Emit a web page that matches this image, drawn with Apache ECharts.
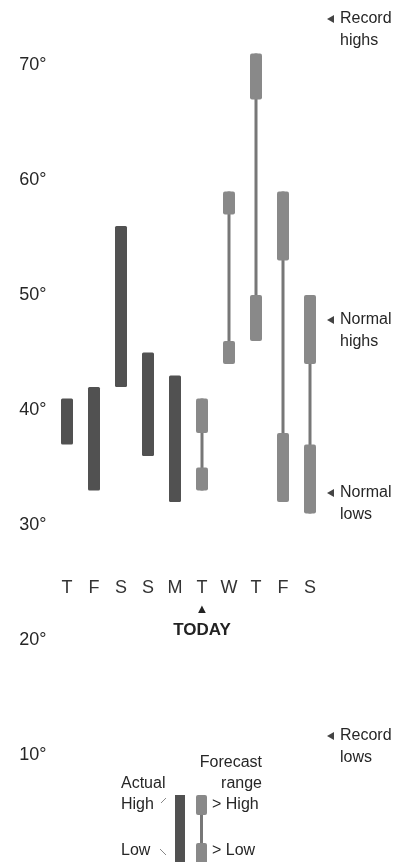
<!DOCTYPE html>
<html>
<head>
<meta charset="utf-8">
<script src="https://cdn.jsdelivr.net/npm/echarts@6/dist/echarts.min.js"></script>
<style>
html,body{margin:0;padding:0;background:#fff;}
#c{width:402px;height:862px;}
</style>
</head>
<body>
<div id="c"></div>
<script>
var days = ['T','F','S','S','M','T','W','T','F','S'];
var todayIndex = 5;
var yTicks = [10, 20, 30, 40, 50, 60, 70];

// Actual observed highs and lows (first five days)
var actualHigh = [41, 42, 56, 45, 43];
var actualLow  = [37, 33, 42, 36, 32];

// Forecast ranges (today onward)
var fcHighTop = [41, 59, 71, 59, 50];
var fcHighBot = [38, 57, 67, 53, 44];
var fcLowTop  = [35, 46, 50, 38, 37];
var fcLowBot  = [33, 44, 46, 32, 31];

var FONT = '"Liberation Sans", Arial, sans-serif';
var DARK = '#515151';
var GREY = '#898989';
var TXT = '#262626';

var actualData = actualHigh.map(function (h, i) { return [i, h, actualLow[i]]; });
var fcData = fcHighTop.map(function (t, i) {
  return [todayIndex + i, t, fcHighBot[i], fcLowTop[i], fcLowBot[i]];
});

function renderActual(params, api) {
  var top = api.coord([api.value(0), api.value(1)]);
  var bot = api.coord([api.value(0), api.value(2)]);
  var w = 12;
  return {
    type: 'rect',
    shape: { x: top[0] - w / 2, y: top[1], width: w, height: bot[1] - top[1], r: 1.5 },
    style: { fill: DARK }
  };
}

function renderForecast(params, api) {
  var x = api.value(0);
  var a = api.coord([x, api.value(1)]);
  var b = api.coord([x, api.value(2)]);
  var c = api.coord([x, api.value(3)]);
  var d = api.coord([x, api.value(4)]);
  var w = 12, lw = 3;
  return {
    type: 'group',
    children: [
      { type: 'rect', shape: { x: a[0] - lw / 2, y: a[1], width: lw, height: d[1] - a[1] }, style: { fill: '#777' } },
      { type: 'rect', shape: { x: a[0] - w / 2, y: a[1], width: w, height: b[1] - a[1], r: 2 }, style: { fill: GREY } },
      { type: 'rect', shape: { x: c[0] - w / 2, y: c[1], width: w, height: d[1] - c[1], r: 2 }, style: { fill: GREY } }
    ]
  };
}

function sideLabel(y1, line1, line2) {
  return [
    { type: 'polygon', shape: { points: [[327, y1], [334, y1 - 4], [334, y1 + 4]] }, style: { fill: '#444' } },
    { type: 'text', x: 340, y: y1, style: { text: line1, font: '16px ' + FONT, fill: TXT, verticalAlign: 'middle' } },
    { type: 'text', x: 340, y: y1 + 22, style: { text: line2, font: '16px ' + FONT, fill: TXT, verticalAlign: 'middle' } }
  ];
}

var graphics = []
  .concat(sideLabel(19, 'Record', 'highs'))
  .concat(sideLabel(320, 'Normal', 'highs'))
  .concat(sideLabel(493, 'Normal', 'lows'))
  .concat(sideLabel(736, 'Record', 'lows'))
  .concat([
    // legend
    { type: 'text', x: 262, y: 763, style: { text: 'Forecast', font: '16px ' + FONT, fill: TXT, align: 'right', verticalAlign: 'middle' } },
    { type: 'text', x: 262, y: 784, style: { text: 'range', font: '16px ' + FONT, fill: TXT, align: 'right', verticalAlign: 'middle' } },
    { type: 'text', x: 121, y: 784, style: { text: 'Actual', font: '16px ' + FONT, fill: TXT, verticalAlign: 'middle' } },
    { type: 'text', x: 121, y: 805, style: { text: 'High', font: '16px ' + FONT, fill: TXT, verticalAlign: 'middle' } },
    { type: 'text', x: 121, y: 851, style: { text: 'Low', font: '16px ' + FONT, fill: TXT, verticalAlign: 'middle' } },
    { type: 'text', x: 212, y: 805, style: { text: '> High', font: '16px ' + FONT, fill: TXT, verticalAlign: 'middle' } },
    { type: 'text', x: 212, y: 851, style: { text: '> Low', font: '16px ' + FONT, fill: TXT, verticalAlign: 'middle' } },
    { type: 'line', shape: { x1: 161, y1: 803, x2: 166, y2: 798 }, style: { stroke: '#888', lineWidth: 1 } },
    { type: 'line', shape: { x1: 160, y1: 849, x2: 166, y2: 855 }, style: { stroke: '#888', lineWidth: 1 } },
    { type: 'rect', shape: { x: 175, y: 795, width: 10, height: 70 }, style: { fill: DARK } },
    { type: 'rect', shape: { x: 200, y: 800, width: 3, height: 60 }, style: { fill: '#777' } },
    { type: 'rect', shape: { x: 196, y: 795, width: 11, height: 20, r: 2 }, style: { fill: GREY } },
    { type: 'rect', shape: { x: 196, y: 843, width: 11, height: 22, r: 2 }, style: { fill: GREY } }
  ]);

var chart = echarts.init(document.getElementById('c'), null, { renderer: 'canvas' });
chart.setOption({
  animation: false,
  backgroundColor: '#ffffff',
  grid: [
    { left: 53.5, width: 270, top: 65, height: 690 },
    { left: 53.5, width: 270, top: 557, height: 13 }
  ],
  xAxis: [
    { type: 'category', data: days, gridIndex: 0, show: false },
    {
      type: 'category', data: days, gridIndex: 1,
      axisLine: { show: false }, axisTick: { show: false },
      axisLabel: {
        interval: 0, hideOverlap: false,
        margin: 8, fontSize: 18, fontFamily: FONT, color: '#333', lineHeight: 21,
        formatter: function (v, i) {
          return i === todayIndex ? v + '\n{tri|▲}\n{today|TODAY}' : v;
        },
        rich: {
          tri: { fontSize: 13, lineHeight: 21, color: '#222', fontFamily: FONT },
          today: { fontSize: 17, fontWeight: 'bold', lineHeight: 21, color: '#222', fontFamily: FONT }
        }
      }
    }
  ],
  yAxis: [
    {
      type: 'value', gridIndex: 0, min: yTicks[0], max: yTicks[yTicks.length - 1], interval: 10,
      axisLine: { show: false }, axisTick: { show: false }, splitLine: { show: false },
      axisLabel: { margin: 7, fontSize: 18, fontFamily: FONT, color: TXT, formatter: '{value}°' }
    },
    { type: 'value', gridIndex: 1, show: false }
  ],
  series: [
    { type: 'custom', xAxisIndex: 0, yAxisIndex: 0, renderItem: renderActual, data: actualData, encode: { x: 0, y: [1, 2] }, clip: false },
    { type: 'custom', xAxisIndex: 0, yAxisIndex: 0, renderItem: renderForecast, data: fcData, encode: { x: 0, y: [1, 2, 3, 4] }, clip: false }
  ],
  graphic: graphics
});
</script>
</body>
</html>
